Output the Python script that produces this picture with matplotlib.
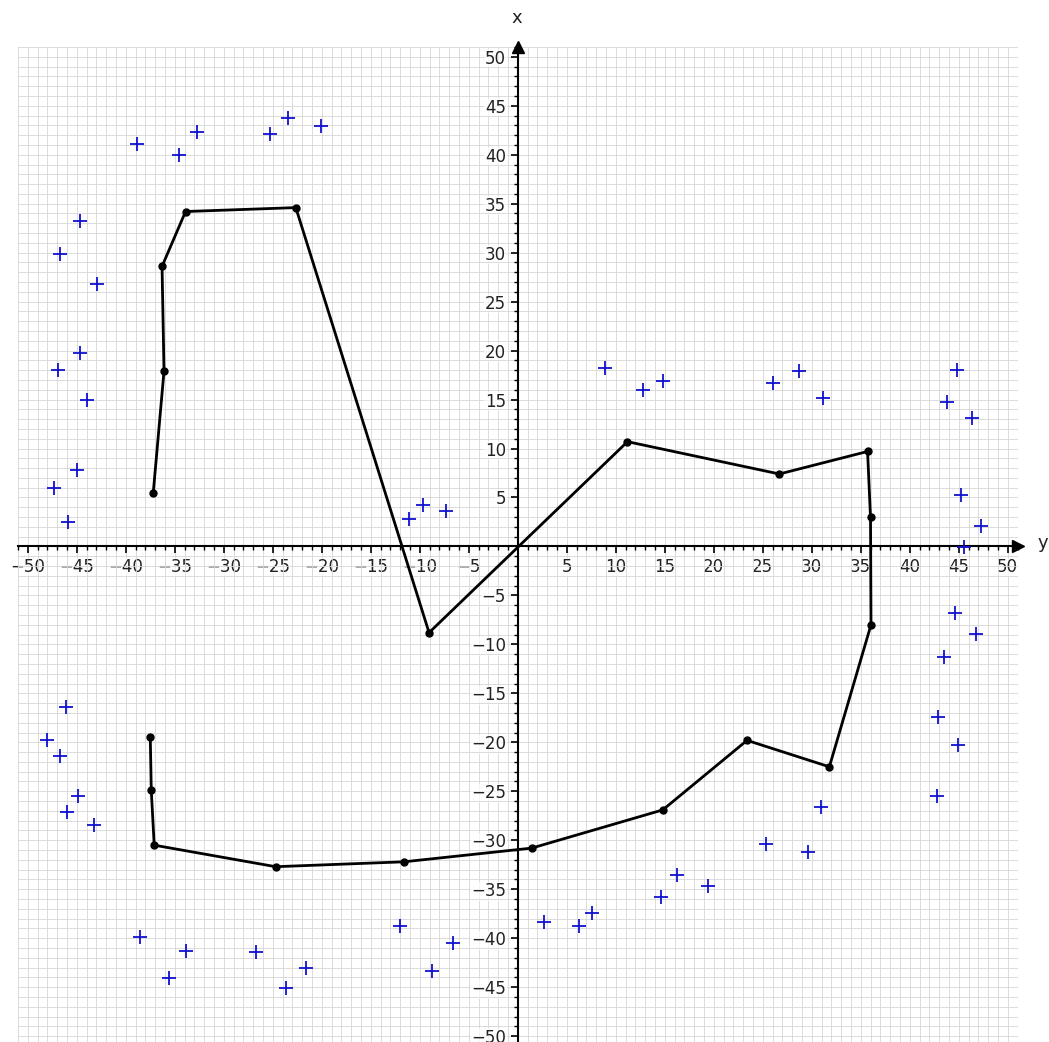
import matplotlib
matplotlib.use("Agg")
import matplotlib.pyplot as plt
from matplotlib.ticker import MultipleLocator

# Path (polyline) points
path_x = [-37.2, -36.1, -36.3, -33.9, -22.65, -9.05, 11.2, 26.7, 35.7, 36.0, 36.05,
          31.8, 23.4, 14.8, 1.43, -11.6, -24.7, -37.1, -37.4, -37.5]
path_y = [5.45, 17.9, 28.6, 34.2, 34.6, -8.8, 10.7, 7.4, 9.7, 2.96, -8.0,
          -22.5, -19.8, -26.9, -30.8, -32.2, -32.7, -30.5, -24.9, -19.5]

# Scattered '+' points
pts_x = [-38.9, -34.6, -32.7, -25.3, -23.4, -20.1, -44.7, -46.7, -42.9,
         -44.7, -46.9, -44.0, -45.0, -47.3, -45.9,
         -11.06, -9.7, -7.3,
         8.9, 12.8, 14.8, 26.0, 28.7, 31.2, 44.8, 43.8, 46.4, 45.2, 47.3, 45.5,
         44.6, 46.8, 43.5, 42.9, 44.9, 42.8, 30.9, 25.3, 29.6,
         -12.0, -8.8, -6.6, 2.7, 6.2, 7.6, 14.6, 16.3, 19.4,
         -46.1, -48.0, -46.7, -44.9, -46.0, -43.2, -38.5, -33.9, -35.6, -26.7, -21.6, -23.7]
pts_y = [41.1, 40.0, 42.3, 42.1, 43.8, 42.9, 33.2, 29.9, 26.8,
         19.8, 18.0, 15.0, 7.8, 6.0, 2.5,
         2.83, 4.2, 3.64,
         18.2, 16.0, 16.9, 16.7, 17.9, 15.2, 18.0, 14.8, 13.1, 5.3, 2.1, -0.06,
         -6.8, -8.9, -11.3, -17.4, -20.3, -25.5, -26.6, -30.4, -31.2,
         -38.8, -43.3, -40.5, -38.3, -38.8, -37.4, -35.8, -33.5, -34.7,
         -16.4, -19.8, -21.4, -25.5, -27.1, -28.4, -39.9, -41.3, -44.1, -41.4, -43.0, -45.1]

major_ticks = list(range(-50, 51, 5))
major_labels = [("\u2212%d" % -t if t < 0 else str(t)) if t != 0 else "" for t in major_ticks]

W, H = 1049, 1042
fig = plt.figure(figsize=(W / 100, H / 100), dpi=100)
ax = fig.add_axes([18 / W, 0.0, 999.5 / W, (1042 - 47) / H])
ax.set_xlim(-51, 51)
ax.set_ylim(-50.6, 51)

ax.xaxis.set_minor_locator(MultipleLocator(1))
ax.yaxis.set_minor_locator(MultipleLocator(1))
ax.set_xticks(major_ticks)
ax.set_yticks(major_ticks)
ax.set_xticklabels(major_labels)
ax.set_yticklabels(major_labels)
ax.grid(True, which="both", color="#d6d6d6", linewidth=0.6)
ax.set_axisbelow(True)

for s in ["top", "right"]:
    ax.spines[s].set_visible(False)
ax.spines["left"].set_position(("data", 0))
ax.spines["bottom"].set_position(("data", 0))
ax.spines["left"].set_linewidth(1.5)
ax.spines["bottom"].set_linewidth(1.5)
ax.tick_params(which="major", length=5, width=1.2, labelsize=12, colors="black", labelcolor="#222222")
ax.tick_params(which="minor", length=3, width=1.0)
for lab in ax.get_xticklabels() + ax.get_yticklabels():
    lab.set_bbox(dict(facecolor="white", edgecolor="none", pad=0.5, alpha=0.7))

# arrow heads
ax.plot(1, 0, ">k", transform=ax.get_yaxis_transform(), clip_on=False, markersize=8)
ax.plot(0, 1, "^k", transform=ax.get_xaxis_transform(), clip_on=False, markersize=8)

ax.plot(path_x, path_y, "-", color="black", linewidth=2, marker="o", markersize=5, zorder=3)
ax.plot(pts_x, pts_y, "+", color="#1010d0", markersize=10, markeredgewidth=1.3, linestyle="none", zorder=3)

fig.text(517 / W, 1 - 18 / H, "x", ha="center", va="center", fontsize=13, color="#222222")
fig.text(1043 / W, 1 - 543 / H, "y", ha="center", va="center", fontsize=13, color="#222222")

fig.savefig("out.png", dpi=100)
